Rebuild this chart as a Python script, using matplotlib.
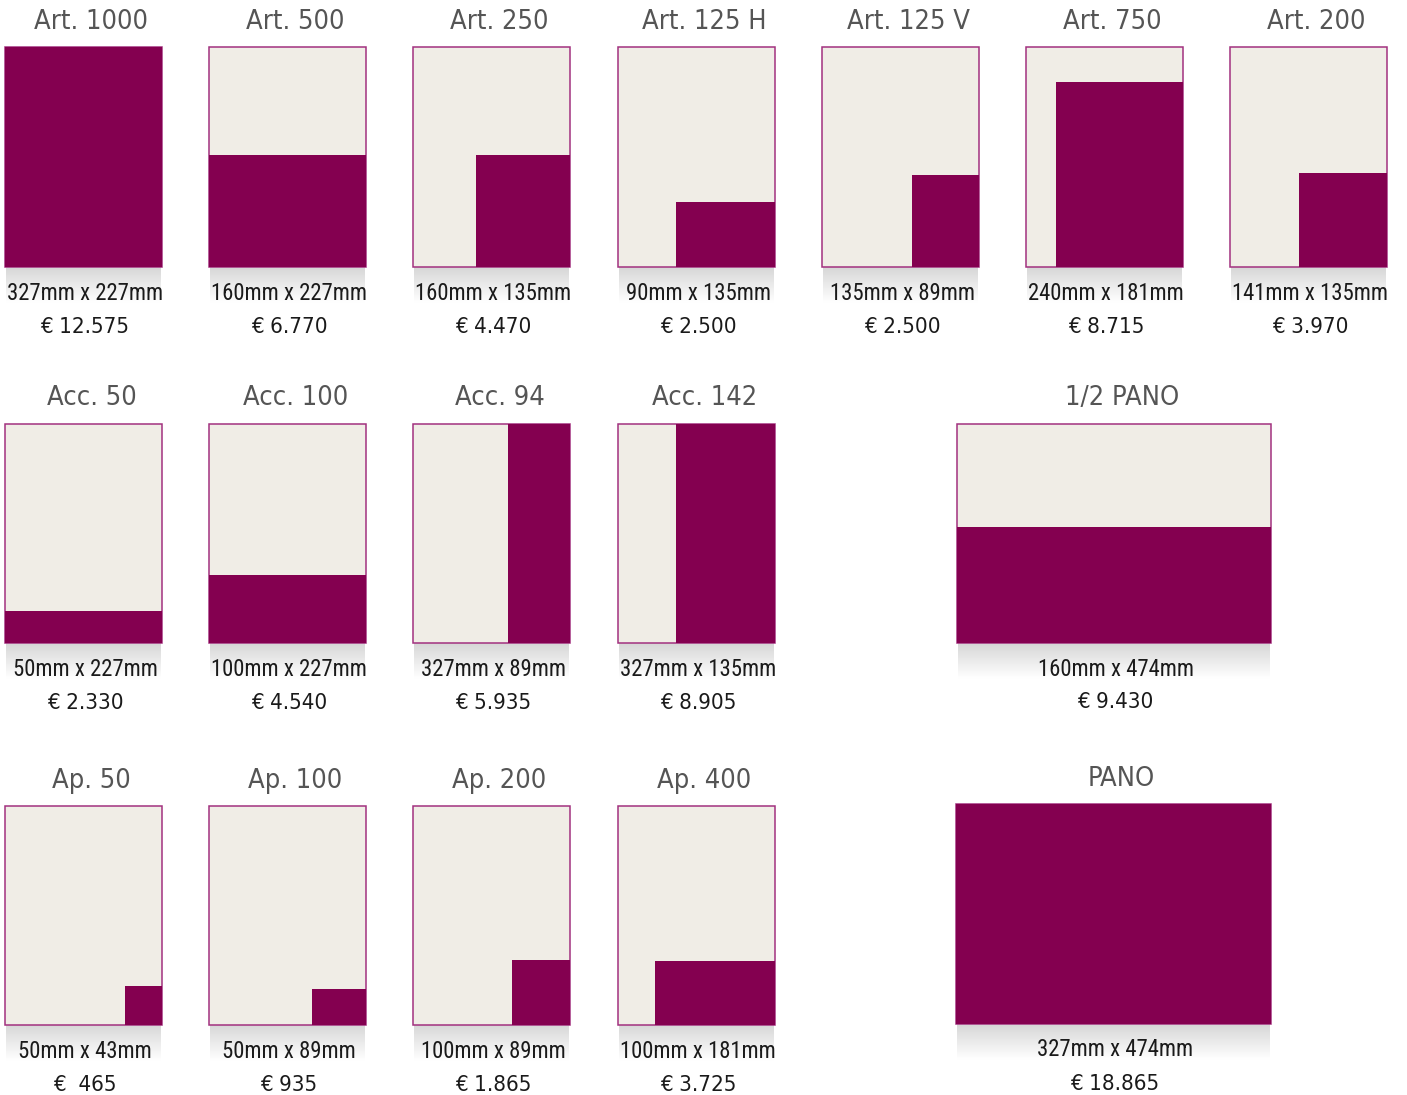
import matplotlib
matplotlib.use("Agg")
import matplotlib.pyplot as plt
from matplotlib.patches import Rectangle
from matplotlib import font_manager as fm
from matplotlib.font_manager import FontProperties
from matplotlib.textpath import TextPath
import numpy as np

# ---------------- data ----------------
row1_names = ["Art. 1000", "Art. 500", "Art. 250", "Art. 125 H", "Art. 125 V", "Art. 750", "Art. 200"]
row1_dims = ["327mm x 227mm", "160mm x 227mm", "160mm x 135mm", "90mm x 135mm",
             "135mm x 89mm", "240mm x 181mm", "141mm x 135mm"]
row1_prices = ["€ 12.575", "€ 6.770", "€ 4.470", "€ 2.500", "€ 2.500", "€ 8.715", "€ 3.970"]
# drawn ad block (width, height) in mm on a 227 x 327 page, anchored bottom-right
row1_ad_w = [227, 227, 136, 143, 97, 184, 127]
row1_ad_h = [327, 166, 166, 97, 137, 275, 140]

row2_names = ["Acc. 50", "Acc. 100", "Acc. 94", "Acc. 142"]
row2_dims = ["50mm x 227mm", "100mm x 227mm", "327mm x 89mm", "327mm x 135mm"]
row2_prices = ["€ 2.330", "€ 4.540", "€ 5.935", "€ 8.905"]
row2_ad_w = [227, 227, 90, 143]
row2_ad_h = [48, 102, 327, 327]

row3_names = ["Ap. 50", "Ap. 100", "Ap. 200", "Ap. 400"]
row3_dims = ["50mm x 43mm", "50mm x 89mm", "100mm x 89mm", "100mm x 181mm"]
row3_prices = ["€  465", "€ 935", "€ 1.865", "€ 3.725"]
row3_ad_w = [53, 78, 84, 174]
row3_ad_h = [58, 54, 97, 96]

pano_names = ["1/2 PANO", "PANO"]
pano_dims = ["160mm x 474mm", "327mm x 474mm"]
pano_prices = ["€ 9.430", "€ 18.865"]
pano_ad_w = [454, 454]
pano_ad_h = [173, 327]

PAGE_W, PAGE_H = 227, 327
SPREAD_W = 454

# ---------------- style ----------------
PURPLE = "#840050"
CREAM = "#F0EDE6"
EDGE = "#A2317F"
TITLE_C = "#555555"
TEXT_C = "#1a1a1a"

W, H = 1407, 1095
fig = plt.figure(figsize=(W / 100, H / 100), dpi=100)
fig.patch.set_facecolor("white")

avail = fm.fontManager.ttflist
has_dv_cond = any(f.name == "DejaVu Sans" and f.stretch in ("condensed", 600, "semi-condensed")
                  for f in avail)

# ---- choose the narrowest-looking font for the size captions ----
LATIN = ("DejaVu", "Liberation", "Noto Sans", "Roboto", "Open Sans", "Lato", "Inter")


def is_candidate(f):
    if not f.name.startswith(LATIN) or "CJK" in f.name or "Mono" in f.name:
        return False
    if f.style != "normal":
        return False
    try:
        wt = int(f.weight)
    except (TypeError, ValueError):
        wt = 400 if f.weight in ("normal", "regular", "book") else 700
    if wt not in (400,):
        return False
    narrow = ("Narrow" in f.name or "Condensed" in f.name or
              str(f.stretch) not in ("normal", "500"))
    return narrow


SAMPLE = "327mm x 227mm"
TARGET_W, TARGET_CAP = 154.0, 17.0


def measure(fp):
    w = TextPath((0, 0), SAMPLE, size=100, prop=fp).get_extents().width
    c = TextPath((0, 0), "3", size=100, prop=fp).get_extents().height
    return w, c


best = None
seen = set()
for f in avail:
    if not is_candidate(f) or f.fname in seen:
        continue
    seen.add(f.fname)
    try:
        fp = FontProperties(fname=f.fname)
        w100, c100 = measure(fp)
    except Exception:
        continue
    if c100 <= 0:
        continue
    r = w100 / c100
    score = abs(r - TARGET_W / TARGET_CAP)
    if best is None or score < best[0]:
        best = (score, fp, w100, c100)

if best is not None:
    _, DIM_FP, w100, c100 = best
    s_w = TARGET_W * 72 / w100
    s_c = TARGET_CAP * 72 / c100
    DIM_SIZE = min(s_w, s_c)
else:
    DIM_FP = FontProperties(family="DejaVu Sans")
    DIM_SIZE = 12.5

if has_dv_cond:
    TITLE_FONT = dict(family="DejaVu Sans", stretch="condensed", size=19.5)
    PRICE_FONT = dict(family="DejaVu Sans", stretch="condensed", size=16)
else:
    TITLE_FONT = dict(family="DejaVu Sans", size=17.5)
    PRICE_FONT = dict(family="DejaVu Sans", size=15)


def fx(x):
    return x / W


def fy(y):
    return 1 - y / H


def draw_page(left, top, w, h, page_w, ad_w, ad_h, title, dims, price,
              title_y, dims_y, price_y):
    # shadow gradient under page
    sh = fig.add_axes([fx(left + 1), fy(top + h + 36), (w - 2) / W, 36 / H])
    grad = np.linspace(0.84, 1.0, 64).reshape(-1, 1)
    sh.imshow(grad, cmap="gray", vmin=0, vmax=1, aspect="auto",
              extent=[0, 1, 0, 1], origin="upper", interpolation="bilinear")
    sh.set_axis_off()
    ax = fig.add_axes([fx(left), fy(top + h), w / W, h / H])
    ax.set_xlim(0, page_w)
    ax.set_ylim(0, PAGE_H)
    ax.set_axis_off()
    ax.add_patch(Rectangle((0, 0), page_w, PAGE_H, facecolor=CREAM,
                           edgecolor=EDGE, lw=1.1, clip_on=False, zorder=1))
    ax.add_patch(Rectangle((page_w - ad_w, 0), ad_w, ad_h, facecolor=PURPLE,
                           edgecolor="none", clip_on=False, zorder=2))
    cx = left + w / 2
    fig.text(fx(cx + 8), fy(title_y), title, ha="center", va="center",
             color=TITLE_C, **TITLE_FONT)
    t = fig.text(fx(cx + 1.5), fy(dims_y), dims, ha="center", va="center",
                 color=TEXT_C, fontproperties=DIM_FP)
    t.set_fontsize(DIM_SIZE)
    fig.text(fx(cx + 1.5), fy(price_y), price, ha="center", va="center",
             color=TEXT_C, **PRICE_FONT)


col_left = [5, 209, 413, 618, 822, 1026, 1230]
BOX_W = 157

for i in range(len(row1_names)):
    draw_page(col_left[i], 47, BOX_W, 220, PAGE_W, row1_ad_w[i], row1_ad_h[i],
              row1_names[i], row1_dims[i], row1_prices[i], 22, 293, 327)

for i in range(len(row2_names)):
    draw_page(col_left[i], 424, BOX_W, 219, PAGE_W, row2_ad_w[i], row2_ad_h[i],
              row2_names[i], row2_dims[i], row2_prices[i], 398, 669, 703)

for i in range(len(row3_names)):
    draw_page(col_left[i], 806, BOX_W, 219, PAGE_W, row3_ad_w[i], row3_ad_h[i],
              row3_names[i], row3_dims[i], row3_prices[i], 781, 1052, 1085)

draw_page(957, 424, 314, 219, SPREAD_W, pano_ad_w[0], pano_ad_h[0],
          pano_names[0], pano_dims[0], pano_prices[0], 398, 669, 702)
draw_page(956, 804, 315, 220, SPREAD_W, pano_ad_w[1], pano_ad_h[1],
          pano_names[1], pano_dims[1], pano_prices[1], 779, 1050, 1084)

fig.savefig("out.png", dpi=100, facecolor="white")
